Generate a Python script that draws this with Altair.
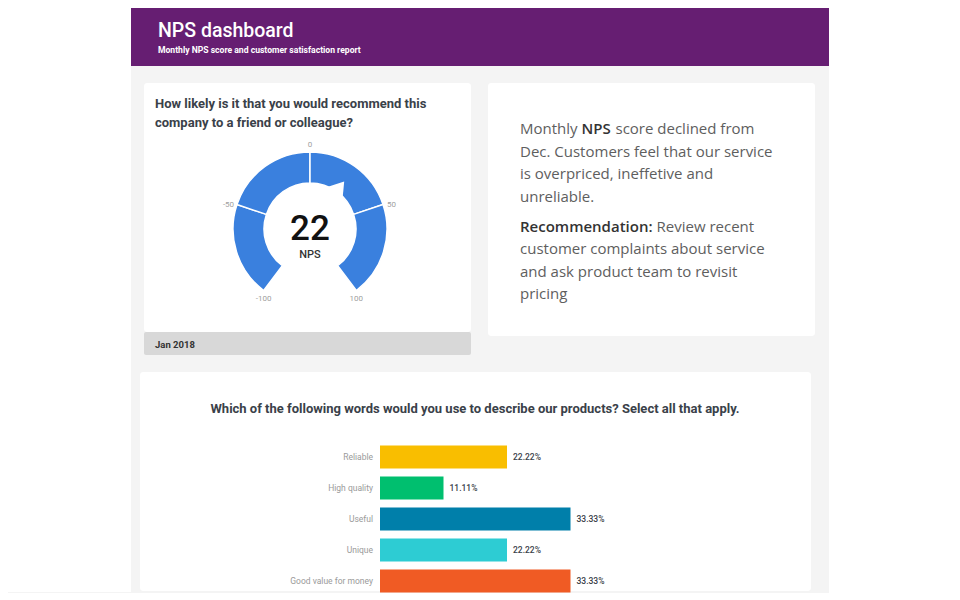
import altair as alt
import pandas as pd

# ---------------- data ----------------
HEADER_TITLE = "NPS dashboard"
HEADER_SUBTITLE = "Monthly NPS score and customer satisfaction report"

GAUGE_QUESTION = ["How likely is it that you would recommend this",
                  "company to a friend or colleague?"]
NPS_SCORE = 22
NPS_LABEL = "NPS"
GAUGE_TICKS = [-100, -50, 0, 50, 100]
PERIOD = "Jan 2018"

SUMMARY_TEXT = ["Monthly", "NPS", "score declined from",
                "Dec. Customers feel that our service",
                "is overpriced, ineffetive and",
                "unreliable.",
                "Recommendation:", "Review recent",
                "customer complaints about service",
                "and ask product team to revisit",
                "pricing"]
SUMMARY_BOLD = [False, True, False, False, False, False,
                True, False, False, False, False]
SUMMARY_LINE = [0, 0, 0, 1, 2, 3, 4, 4, 5, 6, 7]

BAR_QUESTION = ("Which of the following words would you use to describe "
                "our products? Select all that apply.")
WORDS = ["Reliable", "High quality", "Useful", "Unique", "Good value for money"]
WORD_SHARE = [22.22, 11.11, 33.33, 22.22, 33.33]
WORD_COLORS = ["#f9be00", "#00bf6f", "#007faa", "#2dccd3", "#f05b24"]

# ---------------- layout / style ----------------
PURPLE = "#661e72"
PAGE_GRAY = "#f4f4f4"
GAUGE_BLUE = "#3a80de"
TITLE_COLOR = "#3a4149"
SPAN_DEG = 143.0        # half-sweep of the gauge arc
LABEL_SPAN_DEG = 147.0  # tick labels sit slightly beyond the arc ends
PI = 3.141592653589793
CX, CY = 166, 146
# x offsets (px) of the text pieces inside the summary card
SUMMARY_X = [32, 93.5, 127.5, 32, 32, 32, 32, 168.5, 32, 32, 32]

one = pd.DataFrame({"k": [0]})


def spacer(w, h=1, fill=None):
    c = alt.Chart(one).mark_point(opacity=0, size=0).encode(
        x=alt.value(1), y=alt.value(1))
    if fill:
        return c.properties(width=w, height=h,
                            view=alt.ViewBackground(fill=fill, strokeWidth=0))
    return c.properties(width=w, height=h)


def label_chart(df, **mark):
    return alt.Chart(df).mark_text(**mark).encode(
        x=alt.X("px:Q", scale=None, axis=None),
        y=alt.Y("py:Q", scale=None, axis=None),
        text="t:N")


# ---- header ----
head_df = pd.DataFrame({"t": [HEADER_TITLE], "px": [27], "py": [28.5]})
sub_df = pd.DataFrame({"t": [HEADER_SUBTITLE], "px": [27], "py": [45]})
header = alt.layer(
    label_chart(head_df, align="left", baseline="alphabetic", fontSize=19.5,
                fontWeight=500, color="white", font="Roboto"),
    label_chart(sub_df, align="left", baseline="alphabetic", fontSize=8.6,
                fontWeight="bold", color="white", font="Roboto"),
).properties(width=698, height=58,
             view=alt.ViewBackground(fill=PURPLE, strokeWidth=0))

# ---- gauge card ----
theta_scale = alt.Scale(domain=[GAUGE_TICKS[0], GAUGE_TICKS[-1]],
                        range=[-SPAN_DEG * PI / 180, SPAN_DEG * PI / 180])
segs = pd.DataFrame({"start": GAUGE_TICKS[:-1], "end": GAUGE_TICKS[1:]})
ticks = pd.DataFrame({"v": GAUGE_TICKS})
score = pd.DataFrame({"score": [NPS_SCORE], "label": [NPS_LABEL]})

arcs = alt.Chart(segs).mark_arc(innerRadius=46, outerRadius=77, color=GAUGE_BLUE,
                                stroke="white", strokeWidth=1.5).encode(
    theta=alt.Theta("start:Q", scale=theta_scale), theta2="end:Q",
    x=alt.value(CX), y=alt.value(CY))

tick_labels = alt.Chart(ticks).transform_calculate(
    a=f"datum.v / 100 * {LABEL_SPAN_DEG} * PI / 180",
    px=f"{CX} + 85 * sin(datum.a)",
    py=f"{CY} - 84 * cos(datum.a)",
    t="'' + datum.v",
).mark_text(fontSize=8, color="#a0a0a0", font="Roboto", baseline="middle").encode(
    x=alt.X("px:Q", scale=None, axis=None),
    y=alt.Y("py:Q", scale=None, axis=None),
    text="t:N")

ptr_angle = NPS_SCORE / 100 * SPAN_DEG + 2
pointer = alt.Chart(score).transform_calculate(
    ang=f"datum.score / 100 * {SPAN_DEG} + 2",
    px=f"{CX} + 50 * sin(datum.ang * PI / 180)",
    py=f"{CY} - 50 * cos(datum.ang * PI / 180)",
).mark_point(shape="M-1,0.75L1,0.75L0.2,-0.75Z", filled=True, color="white",
             opacity=1, size=520, strokeWidth=0, angle=ptr_angle).encode(
    x=alt.X("px:Q", scale=None, axis=None),
    y=alt.Y("py:Q", scale=None, axis=None))

score_text = alt.Chart(score).mark_text(fontSize=35, fontWeight=500, color="#111111",
                                        baseline="alphabetic", font="Roboto").encode(
    x=alt.value(CX), y=alt.value(CY + 11), text="score:Q")
nps_text = alt.Chart(score).mark_text(fontSize=11, fontWeight=500, color="#333333",
                                      baseline="alphabetic", font="Roboto").encode(
    x=alt.value(CX), y=alt.value(CY + 29), text="label:N")

gq_df = pd.DataFrame({"t": GAUGE_QUESTION, "px": [11, 11], "py": [25, 44]})
gauge_title = label_chart(gq_df, align="left", baseline="alphabetic", fontSize=13,
                          fontWeight="bold", color=TITLE_COLOR, font="Roboto")

gauge = alt.layer(arcs, tick_labels, pointer, score_text, nps_text, gauge_title).properties(
    width=327, height=249,
    view=alt.ViewBackground(fill="white", strokeWidth=0, cornerRadius=3))

foot_df = pd.DataFrame({"t": [PERIOD], "px": [11], "py": [15.5]})
footer = label_chart(foot_df, align="left", baseline="alphabetic", fontSize=9.5,
                     fontWeight="bold", color="#333333", font="Roboto").properties(
    width=327, height=23,
    view=alt.ViewBackground(fill="#d8d8d8", strokeWidth=0, cornerRadius=2))

card1 = alt.vconcat(gauge, footer, spacing=0)

# ---- summary card ----
summ = pd.DataFrame({"t": SUMMARY_TEXT, "bold": SUMMARY_BOLD,
                     "line": SUMMARY_LINE, "px": SUMMARY_X})
summ["py"] = 51 + summ["line"] * 22.5 + (summ["line"] >= 4) * 7.5
summ_regular = summ[~summ["bold"]].reset_index(drop=True)
summ_bold = summ[summ["bold"]].reset_index(drop=True)

summary = alt.layer(
    label_chart(summ_regular, align="left", baseline="alphabetic", fontSize=15,
                color="#5e5e5e", font="Open Sans"),
    label_chart(summ_bold, align="left", baseline="alphabetic", fontSize=15,
                fontWeight=600, color="#333333", font="Open Sans"),
).properties(width=327, height=253,
             view=alt.ViewBackground(fill="white", strokeWidth=0, cornerRadius=3))

row1 = alt.hconcat(spacer(13), card1, spacer(17), summary, spacing=0)

# ---- bar card ----
bars_df = pd.DataFrame({"word": WORDS, "share": WORD_SHARE, "zero": [0] * len(WORDS)})
xs = alt.Scale(domain=[0, 100], range=[240, 811.6])
ys = alt.Scale(domain=WORDS, range=[69.5, 224.5], paddingInner=0.26, paddingOuter=0.13)

bars = alt.Chart(bars_df).mark_bar().encode(
    y=alt.Y("word:N", scale=ys, axis=None),
    x=alt.X("share:Q", scale=xs, axis=None),
    color=alt.Color("word:N", scale=alt.Scale(domain=WORDS, range=WORD_COLORS),
                    legend=None))
cat_labels = alt.Chart(bars_df).mark_text(align="right", dx=-7, fontSize=8.5,
                                          color="#9a9a9a", font="Roboto").encode(
    y=alt.Y("word:N", scale=ys, axis=None),
    x=alt.X("zero:Q", scale=xs, axis=None), text="word:N")
val_labels = alt.Chart(bars_df).transform_calculate(
    lbl="format(datum.share, '.2f') + '%'"
).mark_text(align="left", dx=6, fontSize=8.5, fontWeight=500, color=TITLE_COLOR,
            font="Roboto").encode(
    y=alt.Y("word:N", scale=ys, axis=None),
    x=alt.X("share:Q", scale=xs, axis=None), text="lbl:N")

bq_df = pd.DataFrame({"t": [BAR_QUESTION], "px": [335], "py": [40.5]})
bar_title = label_chart(bq_df, baseline="alphabetic", fontSize=13, fontWeight="bold",
                        color=TITLE_COLOR, font="Roboto")

bar_card = alt.layer(bars, cat_labels, val_labels).properties(
    width=671, height=219,
    view=alt.ViewBackground(fill="white", strokeWidth=0, cornerRadius=3))
bar_card = alt.layer(bar_card, bar_title).resolve_scale(x="independent", y="independent")

row3 = alt.hconcat(spacer(9), bar_card, spacing=0)

container = alt.vconcat(header, row1, row3, spacing=17)

left = spacer(123, 584, fill="white")

chart = alt.hconcat(left, container, spacing=0).properties(
    background=PAGE_GRAY, padding=0
).configure_view(strokeWidth=0)

chart.save("out.html", embed_options={"renderer": "svg", "actions": False})
